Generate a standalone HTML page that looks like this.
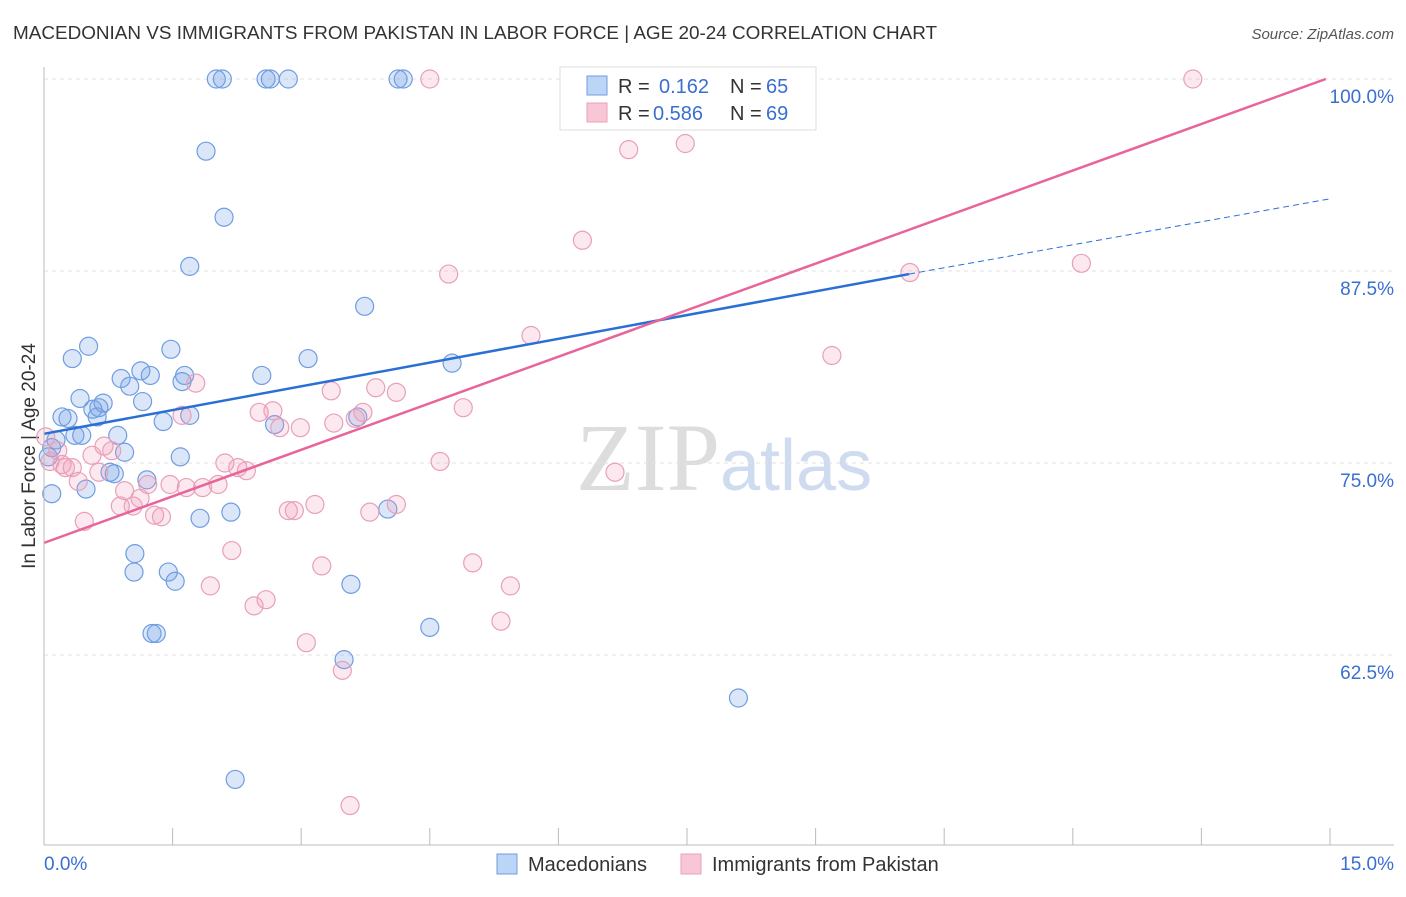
<!DOCTYPE html>
<html><head><meta charset="utf-8"><style>
body{margin:0;background:#fff;font-family:"Liberation Sans",sans-serif}
</style></head><body>
<svg id="c" width="1406" height="892" xmlns="http://www.w3.org/2000/svg" style="font-family:'Liberation Sans',sans-serif">
<text x="13" y="39" font-size="18.9" fill="#333">MACEDONIAN VS IMMIGRANTS FROM PAKISTAN IN LABOR FORCE | AGE 20-24 CORRELATION CHART</text>
<text x="1394" y="39" font-size="15" fill="#555" text-anchor="end" font-style="italic">Source: ZipAtlas.com</text>
<text x="35" y="456" font-size="19" fill="#333" text-anchor="middle" transform="rotate(-90 35 456)">In Labor Force | Age 20-24</text>
<text x="720" y="490" font-size="96" fill="#ddd" text-anchor="end" font-family="Liberation Serif">ZIP</text>
<text x="720" y="490" font-size="72" fill="#cfdcf0">atlas</text>
<g id="grid"></g><g id="pts"></g><g id="lines"></g>
<line x1="44" y1="67" x2="44" y2="845" stroke="#bbb"/>
<line x1="44" y1="845" x2="1394" y2="845" stroke="#bbb"/>
<g>
<rect x="560" y="67" width="256" height="63" fill="#fff" stroke="#ddd"/>
<rect x="587" y="76" width="20" height="19" fill="#bcd4f5" stroke="#6f9de0"/>
<rect x="587" y="103" width="20" height="19" fill="#f9c6d6" stroke="#e8a0b8"/>
<text x="618" y="93" font-size="20" fill="#333">R =</text>
<text x="659" y="93" font-size="20" fill="#3a6fd0">0.162</text>
<text x="730" y="93" font-size="20" fill="#333">N =</text>
<text x="766" y="93" font-size="20" fill="#3a6fd0">65</text>
<text x="618" y="120" font-size="20" fill="#333">R =</text>
<text x="653" y="120" font-size="20" fill="#3a6fd0">0.586</text>
<text x="730" y="120" font-size="20" fill="#333">N =</text>
<text x="766" y="120" font-size="20" fill="#3a6fd0">69</text>
</g>
<g>
<rect x="497" y="854" width="20" height="20" fill="#bcd4f5" stroke="#6f9de0"/>
<text x="528" y="871" font-size="20" fill="#333">Macedonians</text>
<rect x="681" y="854" width="20" height="20" fill="#f9c6d6" stroke="#e8a0b8"/>
<text x="712" y="871" font-size="20" fill="#333">Immigrants from Pakistan</text>
</g>
<text x="44" y="870" font-size="19" fill="#3a6fd0">0.0%</text>
<text x="1394" y="870" font-size="19" fill="#3a6fd0" text-anchor="end">15.0%</text>
</svg>
<script>
const yTicks=[100,87.5,75,62.5];
const yTickLabels=["100.0%","87.5%","75.0%","62.5%"];
const blueX=[2.01,2.08,2.59,2.64,2.85,4.13,4.19,8.24,1.89,2.10,1.70,3.74,0.52,0.33,1.48,3.08,4.76,1.13,0.90,1.24,1.64,1.61,2.54,1.00,0.42,1.15,0.69,0.64,0.57,0.21,0.28,0.62,1.70,1.39,2.69,3.66,0.86,0.36,0.44,0.14,0.09,0.94,1.59,0.05,0.77,0.82,1.20,0.49,0.09,4.01,2.18,1.82,1.06,1.05,1.45,1.53,3.58,1.31,1.26,4.50,3.50,8.10,2.23];
const blueY=[100,100,100,100,100,100,100,100,95.3,91.0,87.8,85.2,82.6,81.8,82.4,81.8,81.5,81.0,80.5,80.7,80.7,80.3,80.7,80.0,79.2,79.0,78.9,78.6,78.5,78.0,77.9,78.0,78.1,77.7,77.5,78.0,76.8,76.8,76.8,76.5,76.0,75.7,75.4,75.4,74.4,74.3,73.9,73.3,73.0,72.0,71.8,71.4,69.1,67.9,67.9,67.3,67.1,63.9,63.9,64.3,62.2,59.7,54.4];
const pinkX=[4.50,6.99,13.40,6.82,7.48,6.28,4.72,10.10,12.10,5.68,9.19,1.77,3.35,3.87,4.11,4.89,1.61,2.51,2.67,3.72,3.63,2.75,2.99,3.38,0.02,0.70,0.79,0.16,0.56,0.07,0.21,0.33,0.25,2.11,2.26,2.36,4.62,0.64,6.66,0.40,1.21,1.47,1.66,1.85,2.03,0.94,1.12,0.89,1.04,1.29,1.37,2.85,2.92,3.16,3.80,4.11,0.47,2.19,3.24,5.00,1.94,5.44,2.59,2.45,5.33,3.06,3.48,3.57];
const pinkY=[100,100,100,95.4,95.8,89.5,87.3,87.4,88.0,83.3,82.0,80.2,79.7,79.9,79.6,78.6,78.1,78.3,78.4,78.3,77.9,77.3,77.3,77.6,76.7,76.1,75.8,75.8,75.5,75.1,74.9,74.7,74.7,75.0,74.7,74.5,75.1,74.4,74.4,73.8,73.6,73.6,73.4,73.4,73.6,73.2,72.7,72.2,72.2,71.6,71.5,71.9,71.9,72.3,71.8,72.3,71.2,69.3,68.3,68.5,67.0,67.0,66.1,65.7,64.7,63.3,61.5,52.7];
const blueTrend=[[0,76.9],[10.09,87.3],[15,92.2]];
const pinkTrend=[[0,69.8],[14.95,100]];
const sx=v=>44+v*(1286/15), sy=v=>79+(100-v)*15.36;
const NS="http://www.w3.org/2000/svg";
function mk(tag,attrs,parent){const e=document.createElementNS(NS,tag);for(const k in attrs)e.setAttribute(k,attrs[k]);parent.appendChild(e);return e;}
const grid=document.getElementById('grid');
yTicks.forEach((t,i)=>{
 const l=mk('line',{x1:44,x2:1394,y1:sy(t),y2:sy(t),stroke:'#e2e2e2','stroke-dasharray':'4 4'},grid);
 
 
 const tx=mk('text',{x:1394,y:sy(t)+24,'font-size':19,fill:'#3a6fd0','text-anchor':'end'},grid);
 tx.textContent=yTickLabels[i];
 
 
});
for(let i=0;i<=10;i++){
 const l=mk('line',{x1:sx(i*1.5),x2:sx(i*1.5),y1:828,y2:845,stroke:'#bbb'},grid);
 
 
}
const pts=document.getElementById('pts');
blueX.forEach((x,i)=>{
 const c=mk('circle',{cx:sx(x),cy:sy(blueY[i]),r:9,fill:'rgba(110,160,230,0.25)',stroke:'#6f9de0','stroke-width':1.2},pts);
 
 
});
pinkX.forEach((x,i)=>{
 const c=mk('circle',{cx:sx(x),cy:sy(pinkY[i]),r:9,fill:'rgba(240,150,180,0.22)',stroke:'#e8a0b8','stroke-width':1.2},pts);
 
 
});
const lines=document.getElementById('lines');
let b1=mk('line',{x1:sx(blueTrend[0][0]),y1:sy(blueTrend[0][1]),x2:sx(blueTrend[1][0]),y2:sy(blueTrend[1][1]),stroke:'#2a6fd6','stroke-width':2.5},lines);


let b2=mk('line',{x1:sx(blueTrend[1][0]),y1:sy(blueTrend[1][1]),x2:sx(blueTrend[2][0]),y2:sy(blueTrend[2][1]),stroke:'#2a6fd6','stroke-width':1,'stroke-dasharray':'6 4'},lines);


let p1=mk('line',{x1:sx(pinkTrend[0][0]),y1:sy(pinkTrend[0][1]),x2:sx(pinkTrend[1][0]),y2:sy(pinkTrend[1][1]),stroke:'#e8649a','stroke-width':2.5},lines);


</script>
</body></html>
